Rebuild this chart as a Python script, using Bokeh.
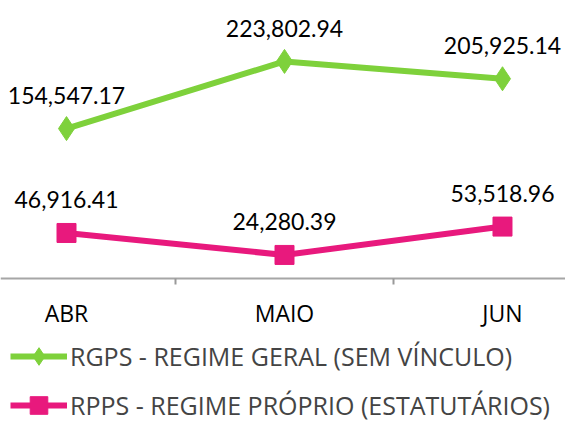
from bokeh.plotting import figure
from bokeh.models import ColumnDataSource, FixedTicker, Legend, LegendItem, Range1d, LabelSet
from bokeh.core.properties import value
from bokeh.embed import file_html
from bokeh.resources import INLINE

categories = ["ABR", "MAIO", "JUN"]
rgps = [154547.17, 223802.94, 205925.14]
rpps = [46916.41, 24280.39, 53518.96]
rgps_labels = ["154,547.17", "223,802.94", "205,925.14"]
rpps_labels = ["46,916.41", "24,280.39", "53,518.96"]

GREEN = "#7ED13B"
PINK = "#E8197D"
FONT = "Lato"
FONT2 = "Open Sans"

xs = list(range(len(categories)))
src_g = ColumnDataSource(dict(x=xs, y=rgps, t=rgps_labels))
src_p = ColumnDataSource(dict(x=xs, y=rpps, t=rpps_labels))

p = figure(width=565, height=423, output_backend="svg", toolbar_location=None,
           x_range=Range1d(-0.3028, 2.289), y_range=Range1d(-149500, 286600),
           min_border_left=0, min_border_right=0, min_border_top=0, min_border_bottom=0)
p.outline_line_color = None
p.grid.visible = False
p.yaxis.visible = False

ax = p.xaxis[0]
ax.fixed_location = 0
ax.ticker = FixedTicker(ticks=xs, minor_ticks=[0.5, 1.5])
ax.major_label_overrides = {i: c for i, c in enumerate(categories)}
ax.major_tick_out = 0
ax.major_tick_in = 0
ax.minor_tick_out = 6
ax.minor_tick_in = 0
ax.minor_tick_line_color = "#999999"
ax.minor_tick_line_width = 2
ax.axis_line_color = "#A6A6A6"
ax.axis_line_width = 2
ax.major_label_standoff = 13
ax.major_label_text_font = FONT2
ax.major_label_text_font_size = "23px"
ax.major_label_text_color = "#000000"

lg = p.line("x", "y", source=src_g, line_color=GREEN, line_width=6)
mg = p.scatter("x", "y", source=src_g, marker="diamond", size=24, fill_color=GREEN, line_color=GREEN)
lp = p.line("x", "y", source=src_p, line_color=PINK, line_width=6)
mp = p.scatter("x", "y", source=src_p, marker="square", size=19, fill_color=PINK, line_color=PINK)

for s in (src_g, src_p):
    p.add_layout(LabelSet(x="x", y="y", text="t", source=s, text_align="center",
                          text_baseline="middle", y_offset=33, text_font=value(FONT),
                          text_font_size=value("23px"), text_color="#000000"))

legend = Legend(items=[
    LegendItem(label="RGPS - REGIME GERAL (SEM VÍNCULO)", renderers=[lg, mg]),
    LegendItem(label="RPPS - REGIME PRÓPRIO (ESTATUTÁRIOS)", renderers=[lp, mp]),
], orientation="vertical", location=(10, -4), border_line_color=None,
    background_fill_alpha=0, label_text_font=FONT2, label_text_font_size="25px",
    glyph_width=57, glyph_height=44, label_height=44, spacing=5, padding=0,
    margin=0, label_standoff=3)
p.add_layout(legend, "center")

open("out.html", "w").write(file_html(p, INLINE))
